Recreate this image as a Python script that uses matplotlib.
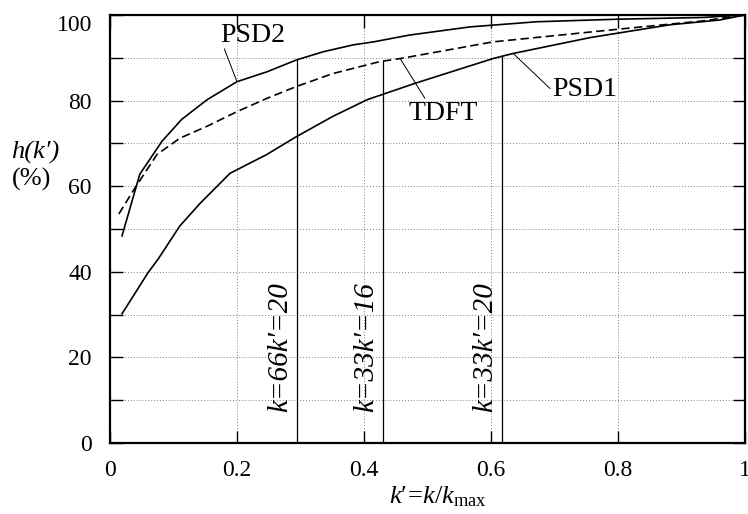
import numpy as np
import matplotlib as mpl
mpl.use("Agg")
import matplotlib.pyplot as plt

mpl.rcParams["font.family"] = ["Liberation Serif", "DejaVu Serif"]
mpl.rcParams["mathtext.fontset"] = "custom"
mpl.rcParams["mathtext.rm"] = "Liberation Serif"
mpl.rcParams["mathtext.it"] = "Liberation Serif:italic"
mpl.rcParams["axes.unicode_minus"] = False

# curves
x_psd2 = [0.019, 0.047, 0.082, 0.113, 0.153, 0.2, 0.247, 0.294, 0.336, 0.383, 0.415, 0.472, 0.567, 0.672, 0.8, 0.934, 1.0]
y_psd2 = [48.4, 62.8, 70.5, 75.6, 80.2, 84.4, 86.7, 89.5, 91.4, 93.0, 93.7, 95.3, 97.2, 98.4, 99.0, 99.4, 100.0]

x_tdft = [0.014, 0.036, 0.074, 0.11, 0.153, 0.2, 0.247, 0.294, 0.351, 0.425, 0.457, 0.603, 0.803, 0.934, 1.0]
y_tdft = [53.5, 58.8, 67.4, 71.2, 74.0, 77.4, 80.5, 83.3, 86.3, 89.1, 89.8, 93.7, 96.7, 98.6, 100.0]

x_psd1 = [0.019, 0.06, 0.076, 0.11, 0.142, 0.189, 0.247, 0.294, 0.351, 0.405, 0.48, 0.603, 0.635, 0.756, 0.882, 0.96, 1.0]
y_psd1 = [30.2, 39.8, 43.0, 50.7, 56.0, 63.0, 67.4, 71.6, 76.3, 80.2, 84.0, 89.8, 91.0, 94.7, 97.7, 98.8, 100.0]

# cut-off markers: position, label, curve it meets
cut_x = [0.294, 0.43, 0.617]
cut_labels = ["k=66k\u2032=20", "k=33k\u2032=16", "k=33k\u2032=20"]
cut_curve = ["PSD2", "TDFT", "PSD1"]

curves = {
    "PSD2": (x_psd2, y_psd2),
    "TDFT": (x_tdft, y_tdft),
    "PSD1": (x_psd1, y_psd1),
}

fig = plt.figure(figsize=(7.48, 5.14), dpi=100)
ax = fig.add_axes([0.147, 0.138, 0.849, 0.833])

ax.plot(x_psd2, y_psd2, color="black", lw=1.2)
ax.plot(x_tdft, y_tdft, color="black", lw=1.2, ls=(0, (5, 2.6)))
ax.plot(x_psd1, y_psd1, color="black", lw=1.2)

for xc, lab, cname in zip(cut_x, cut_labels, cut_curve):
    cx, cy = curves[cname]
    top = np.interp(xc, cx, cy)
    ax.plot([xc, xc], [0, top], color="black", lw=0.9)
    ax.text(xc - 0.006, 7.2, lab, rotation=90, ha="right", va="bottom",
            fontsize=21, style="italic")

# annotations: text and leader line
ax.text(0.225, 95.3, "PSD2", fontsize=20, ha="center", va="center")
ax.annotate("", xy=(0.2, 84.4), xytext=(0.18, 92.1),
            arrowprops=dict(arrowstyle="-", color="black", lw=0.7, shrinkA=0, shrinkB=0))
ax.text(0.524, 77.0, "TDFT", fontsize=20, ha="center", va="center")
ax.annotate("", xy=(0.457, 89.8), xytext=(0.496, 80.5),
            arrowprops=dict(arrowstyle="-", color="black", lw=0.7, shrinkA=0, shrinkB=0))
ax.text(0.697, 82.5, "PSD1", fontsize=20, ha="left", va="center")
ax.annotate("", xy=(0.635, 91.0), xytext=(0.693, 82.8),
            arrowprops=dict(arrowstyle="-", color="black", lw=0.7, shrinkA=0, shrinkB=0))

ax.set_xlim(0, 1)
ax.set_ylim(0, 100)
ax.set_xticks([0, 0.2, 0.4, 0.6, 0.8, 1.0])
ax.set_xticklabels(["0", "0.2", "0.4", "0.6", "0.8", "1"])
ax.set_yticks([0, 20, 40, 60, 80, 100])
ax.set_yticks(np.arange(10, 100, 20), minor=True)
ax.tick_params(which="both", direction="in", length=9, width=1.0,
               top=True, right=True, labelsize=17)
ax.tick_params(axis="y", pad=13)
ax.tick_params(axis="x", pad=12)
ax.grid(True, which="both", ls=(0, (1, 2)), lw=0.7, color="0.5")
ax.get_yticklabels()[-1].set_va("top")
for s in ax.spines.values():
    s.set_linewidth(1.6)

fig.text(0.047, 0.704, "h(k\u2032)", fontsize=19, style="italic", ha="center", va="center")
fig.text(0.042, 0.65, "(%)", fontsize=19, ha="center", va="center")
fig.text(0.585, 0.034, "$k\u2032\\!=\\!k/k_{\\rm max}$", fontsize=19, ha="center", va="center")

fig.savefig("out.png", dpi=100)
